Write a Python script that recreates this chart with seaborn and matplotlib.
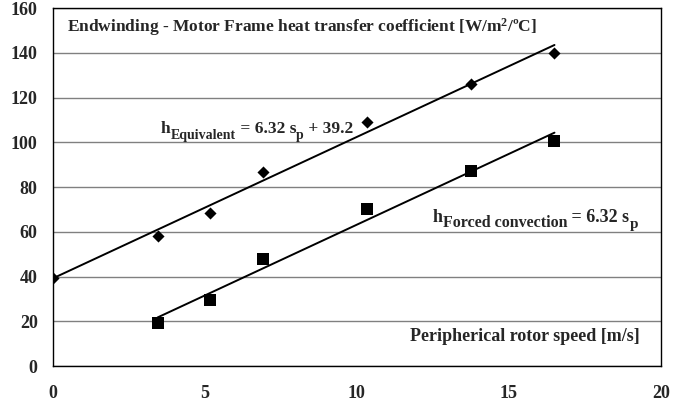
import matplotlib
matplotlib.use("Agg")
import matplotlib.pyplot as plt
import seaborn as sns

# measured points: peripheral rotor speed [m/s] vs heat transfer coefficient
speed_eq = [0.0, 3.45, 5.15, 6.9, 10.32, 13.75, 16.5]
h_eq = [39.5, 58.0, 68.6, 86.7, 108.9, 126.2, 140.0]

speed_fc = [3.44, 5.16, 6.9, 10.32, 13.75, 16.5]
h_fc = [19.1, 29.5, 47.7, 70.1, 87.1, 100.4]

# fitted lines (endpoints of h = 6.32 s + 39.2 and h = 6.32 s)
fit_eq_x = [0.0, 16.5]
fit_eq_y = [39.2, 143.5]
fit_fc_x = [3.44, 16.5]
fit_fc_y = [21.7, 104.3]

x_ticks = [0, 5, 10, 15, 20]
y_ticks = [0, 20, 40, 60, 80, 100, 120, 140, 160]


def rich_label(ax, x, y, parts):
    # parts: (text, fontsize, vertical offset in points from the main baseline)
    first = ax.text(x, y, parts[0][0], fontsize=parts[0][1], fontweight="bold",
                    ha="left", va="bottom")
    prev = first
    for txt, size, dy in parts[1:]:
        prev = ax.annotate(txt, xy=(1, 0), xycoords=(prev, first),
                           xytext=(0, dy), textcoords="offset points",
                           fontsize=size, fontweight="bold", ha="left", va="bottom")
    return first


def main():
    sns.set_style("white")
    plt.rcParams["font.family"] = ["Liberation Serif", "DejaVu Serif"]
    plt.rcParams["font.weight"] = "bold"
    plt.rcParams["mathtext.fontset"] = "custom"
    plt.rcParams["mathtext.rm"] = "Liberation Serif:bold"
    plt.rcParams["mathtext.it"] = "Liberation Serif:bold"
    plt.rcParams["mathtext.bf"] = "Liberation Serif:bold"

    fig = plt.figure(figsize=(6.83, 4.07), dpi=100)
    ax = fig.add_axes([0.0776, 0.1007, 0.890, 0.8795])

    sns.lineplot(x=fit_eq_x, y=fit_eq_y, ax=ax, color="black", linewidth=1.4, zorder=3)
    sns.lineplot(x=fit_fc_x, y=fit_fc_y, ax=ax, color="black", linewidth=1.4, zorder=3)
    sns.scatterplot(x=speed_eq, y=h_eq, ax=ax, marker="D", s=38, color="black",
                    edgecolor="black", linewidth=0, zorder=4)
    sns.scatterplot(x=speed_fc, y=h_fc, ax=ax, marker="s", s=80, color="black",
                    edgecolor="black", linewidth=0, zorder=4)

    ax.set_xlim(0, 20)
    ax.set_ylim(0, 160)
    ax.set_xticks(x_ticks)
    ax.set_yticks(y_ticks)
    ax.yaxis.grid(True, color="#808080", linewidth=1.0)
    ax.set_axisbelow(True)
    for sp in ax.spines.values():
        sp.set_color("black")
        sp.set_linewidth(1.0)
    ax.tick_params(axis="both", direction="out", length=5, width=1, color="black",
                   labelsize=13)
    ax.tick_params(axis="x", pad=9)
    ax.tick_params(axis="y", pad=6)
    for lab in ax.get_xticklabels() + ax.get_yticklabels():
        lab.set_fontweight("bold")
    ax.set_xlabel("")
    ax.set_ylabel("")

    ax.text(0.45, 149.5, "Endwinding - Motor Frame heat transfer coefficient [W/m$^2$/ºC]",
            fontsize=12.5, fontweight="bold", ha="left", va="baseline")
    rich_label(ax, 3.55, 102.5, [("h", 12.5, 0), ("Equivalent", 10, -3.5),
                                 (" = 6.32 s", 12.5, 0), ("p", 10, -3.5),
                                 (" + 39.2", 12.5, 0)])
    rich_label(ax, 12.5, 62.5, [("h", 13, 0), ("Forced convection", 11.5, -3.5),
                                (" = 6.32 s", 13, 0), ("p", 11, -3.5)])
    ax.text(19.3, 13, "Peripherical rotor speed [m/s]",
            fontsize=13, fontweight="bold", ha="right", va="center")

    fig.savefig("out.png", dpi=100)


if __name__ == "__main__":
    main()
